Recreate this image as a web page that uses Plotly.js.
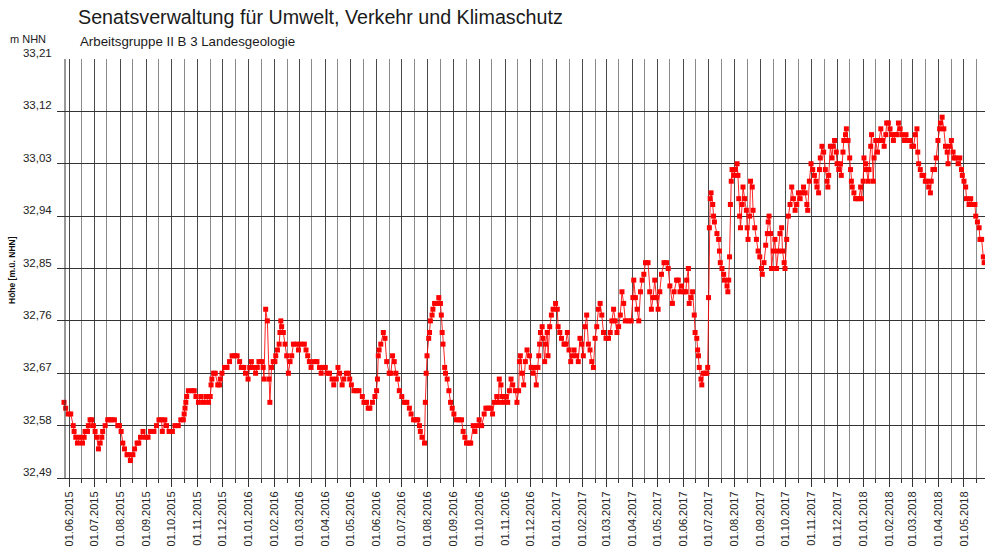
<!DOCTYPE html>
<html>
<head>
<meta charset="utf-8">
<script src="https://cdn.plot.ly/plotly-3.0.1.min.js"></script>
<style>html,body{margin:0;padding:0;background:#fff;}#chart{width:985px;height:551px;}</style>
</head>
<body>
<div id="chart"></div>
<script>
// Measurement start reference and readings (day offset from startDate, level in m NHN)
const startDate = '2015-06-01';
const dayOffsets = [
  -6,-4,-1,2,5,6,8,10,13,16,
  18,19,22,23,25,27,29,31,33,35,
  37,39,40,43,46,48,51,54,58,60,
  62,64,66,69,71,73,76,78,81,83,
  85,88,91,94,97,101,104,107,110,111,
  114,116,119,123,126,130,133,136,137,138,
  139,140,142,146,149,151,154,157,160,163,
  166,168,169,170,172,174,177,179,180,182,
  185,188,191,194,197,200,203,205,208,210,
  213,215,217,219,222,224,226,229,231,232,
  234,236,238,239,241,243,245,246,248,250,
  251,252,253,255,257,259,261,263,265,267,
  271,273,276,280,282,284,286,288,292,295,
  298,300,303,305,307,310,313,315,318,320,
  322,325,327,330,332,334,336,339,342,345,
  349,351,354,356,358,361,364,366,367,368,
  369,371,374,376,378,381,383,385,387,389,
  391,393,396,399,402,405,407,410,413,415,
  417,418,420,423,424,425,426,428,429,430,
  432,433,435,438,440,442,443,444,445,447,
  448,450,452,454,456,458,461,464,467,469,
  471,473,476,478,481,483,486,488,491,494,
  496,499,502,504,506,509,511,512,514,515,
  517,520,522,524,526,528,531,533,535,536,
  537,539,541,543,545,548,550,552,554,556,
  558,559,560,561,563,564,566,567,569,570,
  572,574,576,579,581,582,584,586,589,591,
  593,595,597,599,601,604,606,608,610,612,
  614,616,618,620,622,624,626,628,630,632,
  634,636,639,642,644,646,648,650,652,654,
  656,658,660,662,666,669,671,672,674,676,
  678,680,682,684,686,689,691,693,695,697,
  699,701,703,705,708,711,713,715,718,720,
  723,725,727,729,732,734,735,737,738,740,
  742,744,745,747,748,749,750,752,753,755,
  757,759,760,761,762,763,764,766,767,768,
  771,773,774,775,777,779,780,783,784,785,
  786,787,788,789,791,793,795,796,797,798,
  799,801,802,804,806,807,808,810,811,813,
  814,816,818,820,822,824,825,827,829,831,
  832,833,835,836,838,840,842,844,846,848,
  849,851,852,854,856,858,860,862,864,866,
  868,870,872,874,876,878,879,881,883,885,
  887,889,890,892,893,894,896,898,900,902,
  903,904,906,908,909,911,913,914,916,918,
  919,921,922,924,925,927,929,930,931,932,
  934,936,938,940,942,943,945,946,948,949,
  951,952,954,955,957,958,960,962,964,966,
  968,970,972,973,975,977,979,981,983,985,
  987,989,991,994,996,998,1001,1003,1005,1007,
  1009,1010,1011,1013,1015,1017,1019,1021,1023,1025,
  1026,1028,1030,1032,1034,1036,1037,1039,1041,1043,
  1045,1046,1048,1050,1052,1053,1055,1058,1060,1062,
  1063,1065,1067,1068,1071,1073,1075,1078,1079,1081,
  1083,1084,1086,1088,1089
];
const levels = [
  32.62,32.61,32.60,32.60,32.58,32.57,32.56,32.55,32.56,32.55,
  32.56,32.57,32.57,32.58,32.59,32.59,32.58,32.57,32.56,32.54,
  32.55,32.56,32.57,32.58,32.59,32.59,32.59,32.59,32.58,32.58,
  32.57,32.55,32.54,32.53,32.53,32.52,32.53,32.54,32.55,32.55,
  32.56,32.57,32.56,32.56,32.57,32.57,32.58,32.59,32.59,32.57,
  32.59,32.58,32.57,32.57,32.58,32.58,32.59,32.59,32.60,32.61,
  32.62,32.63,32.64,32.64,32.64,32.63,32.62,32.63,32.62,32.63,
  32.62,32.63,32.65,32.66,32.67,32.67,32.65,32.65,32.66,32.67,
  32.68,32.68,32.69,32.70,32.70,32.70,32.69,32.68,32.68,32.67,
  32.66,32.68,32.69,32.68,32.67,32.68,32.69,32.69,32.68,32.66,
  32.78,32.76,32.66,32.62,32.68,32.69,32.69,32.70,32.71,32.72,
  32.74,32.76,32.75,32.74,32.72,32.70,32.67,32.69,32.70,32.72,
  32.72,32.71,32.72,32.72,32.71,32.70,32.69,32.68,32.69,32.69,
  32.68,32.67,32.68,32.68,32.67,32.67,32.66,32.65,32.66,32.68,
  32.67,32.65,32.66,32.67,32.67,32.66,32.65,32.64,32.64,32.64,
  32.63,32.62,32.62,32.61,32.61,32.62,32.63,32.64,32.66,32.70,
  32.71,32.72,32.74,32.73,32.69,32.67,32.67,32.70,32.69,32.67,
  32.66,32.64,32.63,32.62,32.62,32.61,32.60,32.59,32.59,32.59,
  32.58,32.57,32.56,32.55,32.62,32.67,32.70,32.73,32.74,32.76,
  32.77,32.78,32.79,32.79,32.80,32.79,32.77,32.74,32.72,32.68,
  32.67,32.66,32.64,32.62,32.61,32.60,32.59,32.59,32.59,32.57,
  32.56,32.55,32.55,32.55,32.58,32.57,32.58,32.59,32.58,32.60,
  32.61,32.61,32.61,32.60,32.62,32.63,32.62,32.66,32.65,32.63,
  32.62,32.63,32.62,32.64,32.66,32.65,32.64,32.62,32.64,32.69,
  32.70,32.67,32.65,32.69,32.71,32.70,32.68,32.67,32.68,32.65,
  32.68,32.70,32.72,32.74,32.75,32.73,32.69,32.72,32.74,32.70,
  32.75,32.77,32.78,32.79,32.78,32.75,32.74,32.73,32.72,32.72,
  32.74,32.71,32.69,32.70,32.71,32.70,32.69,32.73,32.72,32.70,
  32.75,32.77,32.72,32.71,32.69,32.68,32.73,32.75,32.78,32.79,
  32.77,32.74,32.73,32.73,32.74,32.76,32.78,32.76,32.74,32.75,
  32.77,32.81,32.79,32.76,32.76,32.76,32.80,32.83,32.80,32.78,
  32.76,32.81,32.83,32.84,32.86,32.86,32.81,32.78,32.80,32.83,
  32.80,32.78,32.81,32.84,32.86,32.86,32.85,32.82,32.79,32.81,
  32.83,32.83,32.81,32.82,32.81,32.81,32.83,32.85,32.79,32.80,
  32.81,32.77,32.74,32.73,32.71,32.70,32.68,32.66,32.65,32.67,
  32.67,32.67,32.68,32.80,32.92,32.97,32.98,32.96,32.94,32.93,
  32.91,32.90,32.88,32.86,32.85,32.84,32.83,32.82,32.81,32.83,
  32.87,32.96,33.00,33.02,33.01,33.02,33.03,33.01,32.97,32.94,
  32.92,32.96,32.99,32.97,32.95,32.92,32.90,32.94,33.00,32.99,
  32.95,32.92,32.90,32.88,32.87,32.85,32.84,32.86,32.89,32.91,
  32.93,32.94,32.91,32.85,32.88,32.90,32.85,32.88,32.91,32.92,
  32.88,32.86,32.85,32.90,32.94,32.96,32.99,32.97,32.95,32.96,
  32.98,32.97,32.98,32.99,32.98,32.96,32.95,33.00,33.03,33.02,
  33.01,33.00,32.99,32.98,33.02,33.04,33.06,33.05,33.02,33.00,
  32.99,33.01,33.06,33.04,33.06,33.07,33.05,33.03,33.02,33.03,
  33.01,33.05,33.07,33.08,33.09,33.07,33.04,33.02,33.00,32.99,
  32.98,32.97,32.97,32.97,32.99,32.97,33.00,33.04,33.03,33.02,
  33.00,33.02,33.06,33.08,33.00,33.04,33.07,33.05,33.07,33.09,
  33.07,33.06,33.08,33.10,33.10,33.09,33.08,33.07,33.08,33.08,
  33.10,33.09,33.08,33.07,33.08,33.07,33.07,33.06,33.06,33.08,
  33.09,33.05,33.03,33.02,33.01,33.01,33.00,33.00,32.99,32.98,
  33.00,33.02,33.02,33.04,33.07,33.09,33.10,33.11,33.09,33.06,
  33.05,33.03,33.06,33.07,33.05,33.04,33.04,33.03,33.04,33.02,
  33.01,33.00,32.99,32.97,32.96,32.97,32.96,32.96,32.94,32.93,
  32.92,32.90,32.90,32.87,32.86
];
const yTickValues = [32.49, 32.58, 32.67, 32.76, 32.85, 32.94, 33.03, 33.12, 33.21];
const monthTicks = [
  '2015-06-01','2015-07-01','2015-08-01','2015-09-01','2015-10-01','2015-11-01','2015-12-01',
  '2016-01-01','2016-02-01','2016-03-01','2016-04-01','2016-05-01','2016-06-01','2016-07-01',
  '2016-08-01','2016-09-01','2016-10-01','2016-11-01','2016-12-01','2017-01-01','2017-02-01',
  '2017-03-01','2017-04-01','2017-05-01','2017-06-01','2017-07-01','2017-08-01','2017-09-01',
  '2017-10-01','2017-11-01','2017-12-01','2018-01-01','2018-02-01','2018-03-01','2018-04-01',
  '2018-05-01'
];
const monthLabels = [
  '01.06.2015','01.07.2015','01.08.2015','01.09.2015','01.10.2015','01.11.2015','01.12.2015',
  '01.01.2016','01.02.2016','01.03.2016','01.04.2016','01.05.2016','01.06.2016','01.07.2016',
  '01.08.2016','01.09.2016','01.10.2016','01.11.2016','01.12.2016','01.01.2017','01.02.2017',
  '01.03.2017','01.04.2017','01.05.2017','01.06.2017','01.07.2017','01.08.2017','01.09.2017',
  '01.10.2017','01.11.2017','01.12.2017','01.01.2018','01.02.2018','01.03.2018','01.04.2018',
  '01.05.2018'
];
const midMonthTicks = [
  '2015-06-16','2015-07-16','2015-08-16','2015-09-16','2015-10-16','2015-11-16','2015-12-16',
  '2016-01-16','2016-02-16','2016-03-16','2016-04-16','2016-05-16','2016-06-16','2016-07-16',
  '2016-08-16','2016-09-16','2016-10-16','2016-11-16','2016-12-16','2017-01-16','2017-02-16',
  '2017-03-16','2017-04-16','2017-05-16','2017-06-16','2017-07-16','2017-08-16','2017-09-16',
  '2017-10-16','2017-11-16','2017-12-16','2018-01-16','2018-02-16','2018-03-16','2018-04-16',
  '2018-05-16'
];

const t0 = Date.parse(startDate + 'T00:00:00Z');
const dates = dayOffsets.map(d => new Date(t0 + d * 86400000).toISOString().slice(0, 10));

const FONT = 'Arial, "Liberation Sans", sans-serif';

const trace = {
  type: 'scatter',
  mode: 'lines+markers',
  x: dates,
  y: levels,
  line: { color: 'rgba(255,0,0,0.85)', width: 1 },
  marker: { symbol: 'square', size: 5, color: '#ff0000', line: { width: 0 } },
  cliponaxis: false,
  hoverinfo: 'x+y'
};

const layout = {
  width: 985,
  height: 551,
  margin: { l: 57, r: 0, t: 59, b: 73 },
  paper_bgcolor: '#ffffff',
  plot_bgcolor: '#ffffff',
  separators: ', ',
  showlegend: false,
  font: { family: FONT, color: '#222' },
  title: {
    text: 'Senatsverwaltung für Umwelt, Verkehr und Klimaschutz',
    font: { family: FONT, size: 19.7, color: '#1a1a1a' },
    xref: 'container', yref: 'container',
    x: 78 / 985, xanchor: 'left',
    y: 1 - 17 / 551, yanchor: 'middle'
  },
  xaxis: {
    type: 'date',
    range: ['2015-05-17 16:00', '2018-05-26'],
    tickmode: 'array',
    tickvals: monthTicks,
    ticktext: monthLabels,
    tickangle: -90,
    tickfont: { family: FONT, size: 11, color: '#222' },
    ticks: 'outside',
    ticklen: 8,
    tickcolor: '#333',
    showgrid: true,
    gridcolor: '#4a4a4a',
    gridwidth: 1,
    showline: true,
    linecolor: '#333',
    linewidth: 1,
    zeroline: false,
    minor: {
      tickmode: 'array',
      tickvals: midMonthTicks,
      ticks: 'outside',
      ticklen: 4,
      tickcolor: '#333',
      showgrid: true,
      gridcolor: '#8a8a8a',
      gridwidth: 1
    }
  },
  yaxis: {
    range: [32.49, 33.21],
    tickmode: 'array',
    tickvals: yTickValues,
    tickformat: '.2f',
    tickfont: { family: FONT, size: 11.5, color: '#222' },
    ticks: 'outside',
    ticklen: 2,
    tickcolor: 'rgba(0,0,0,0)',
    ticklabelshift: -6,
    showgrid: true,
    gridcolor: '#333',
    gridwidth: 1,
    showline: false,
    zeroline: false
  },
  shapes: [
    { type: 'line', xref: 'paper', yref: 'paper', x0: 8 / 928, x1: 8 / 928, y0: 0, y1: 1,
      line: { color: '#333', width: 1 } }
  ],
  annotations: [
    { text: 'Arbeitsgruppe II B 3 Landesgeologie', xref: 'paper', yref: 'paper',
      x: 21 / 928, xanchor: 'left', y: (478 - 42) / 419, yanchor: 'middle',
      showarrow: false, font: { family: FONT, size: 13.3, color: '#1a1a1a' } },
    { text: 'm NHN', xref: 'paper', yref: 'paper',
      x: -49 / 928, xanchor: 'left', y: (478 - 39) / 419, yanchor: 'middle',
      showarrow: false, font: { family: FONT, size: 11, color: '#222' } },
    { text: '<b>Höhe [m.ü. NHN]</b>', xref: 'paper', yref: 'paper',
      x: -45 / 928, xanchor: 'center', y: (478 - 270) / 419, yanchor: 'middle',
      textangle: -90, showarrow: false, font: { family: FONT, size: 8.5, color: '#111' } }
  ]
};

Plotly.newPlot('chart', [trace], layout, { staticPlot: true, displayModeBar: false });
</script>
</body>
</html>
